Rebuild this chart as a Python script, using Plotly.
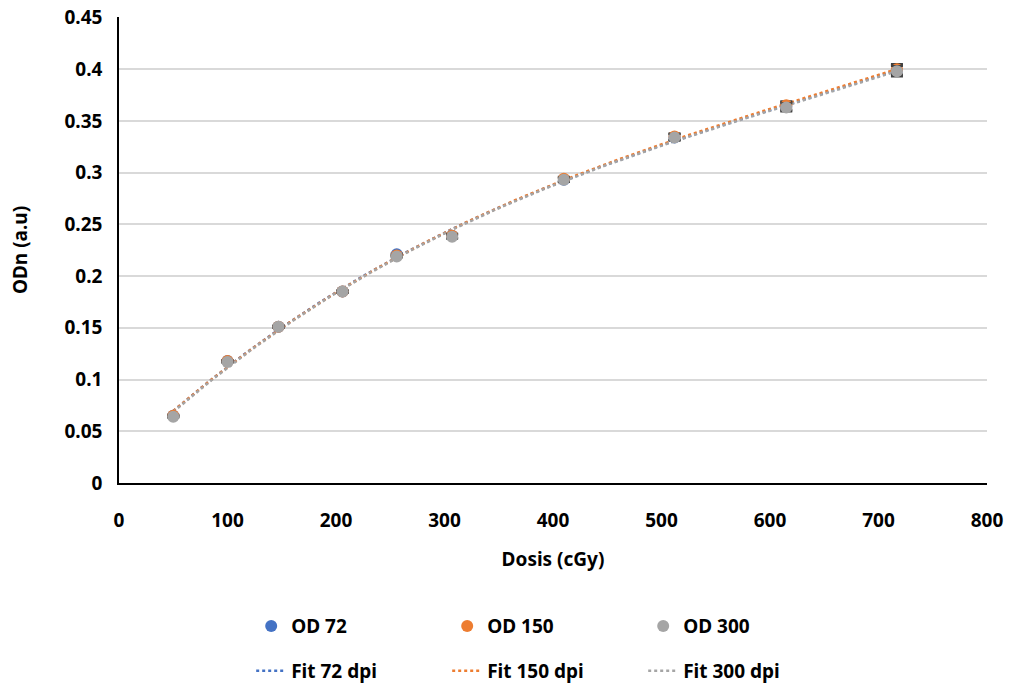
import numpy as np
import plotly.graph_objects as go

dose = [50, 100, 147, 206, 256, 307, 410, 512, 615, 717]
od72 = [0.065, 0.118, 0.151, 0.185, 0.221, 0.239, 0.293, 0.334, 0.364, 0.399]
od150 = [0.065, 0.118, 0.151, 0.185, 0.220, 0.239, 0.294, 0.335, 0.365, 0.400]
od300 = [0.064, 0.117, 0.151, 0.185, 0.219, 0.238, 0.293, 0.334, 0.363, 0.398]
err300 = [0.001, 0.001, 0.001, 0.001, 0.001, 0.002, 0.002, 0.003, 0.004, 0.005]

names_pts = ["OD 72", "OD 150", "OD 300"]
names_fit = ["Fit 72 dpi", "Fit 150 dpi", "Fit 300 dpi"]
colors = ["#4472C4", "#ED7D31", "#A5A5A5"]
series = [od72, od150, od300]

font = "Noto Sans"
fs = 19
fig = go.Figure()

xs = np.linspace(min(dose), max(dose), 200)
for i, ys in enumerate(series):
    coef = np.polyfit(dose, ys, 3)
    fig.add_trace(go.Scatter(
        x=xs, y=np.polyval(coef, xs), mode="lines", name=names_fit[i],
        line=dict(color=colors[i], width=2.5, dash="dot"), legend="legend2"))

for i, ys in enumerate(series):
    fig.add_trace(go.Scatter(
        x=dose, y=ys, mode="markers", name=names_pts[i],
        marker=dict(color=colors[i], size=12),
        error_y=dict(type="data", array=err300, color="#404040", thickness=2, width=6),
        legend="legend"))

fig.update_layout(
    width=1012, height=689,
    margin=dict(l=119, r=25, t=17, b=206, autoexpand=False),
    paper_bgcolor="white", plot_bgcolor="white",
    font=dict(family=font, size=fs, color="black"),
    xaxis=dict(range=[0, 800], dtick=100, showgrid=False, showline=True,
               linecolor="black", linewidth=1.5, zeroline=False,
               ticks="outside", ticklen=19, tickcolor="rgba(0,0,0,0)",
               tickfont=dict(family=font, size=fs, color="black", weight="bold"),
               title=dict(text="<b>Dosis (cGy)</b>", font=dict(size=fs), standoff=21)),
    yaxis=dict(range=[0, 0.4504], dtick=0.05, showgrid=True, gridcolor="#D9D9D9",
               gridwidth=1.5, showline=True, linecolor="black", linewidth=1.5,
               zeroline=False, ticks="outside", ticklen=11, tickcolor="rgba(0,0,0,0)",
               ticklabeloverflow="allow",
               tickfont=dict(family=font, size=fs, color="black", weight="bold"),
               title=dict(text="<b>ODn (a.u)</b>", font=dict(size=fs), standoff=32)),
    legend=dict(orientation="h", x=0.491, xanchor="center", y=-0.307, yanchor="middle",
                entrywidth=151, font=dict(size=fs, weight="bold"), traceorder="normal"),
    legend2=dict(orientation="h", x=0.491, xanchor="center", y=-0.403, yanchor="middle",
                 entrywidth=151, font=dict(size=fs, weight="bold"), traceorder="normal"),
    showlegend=True,
)

fig.write_html("out.html", post_script="document.body.style.margin='0';",
               config={"displayModeBar": False})
